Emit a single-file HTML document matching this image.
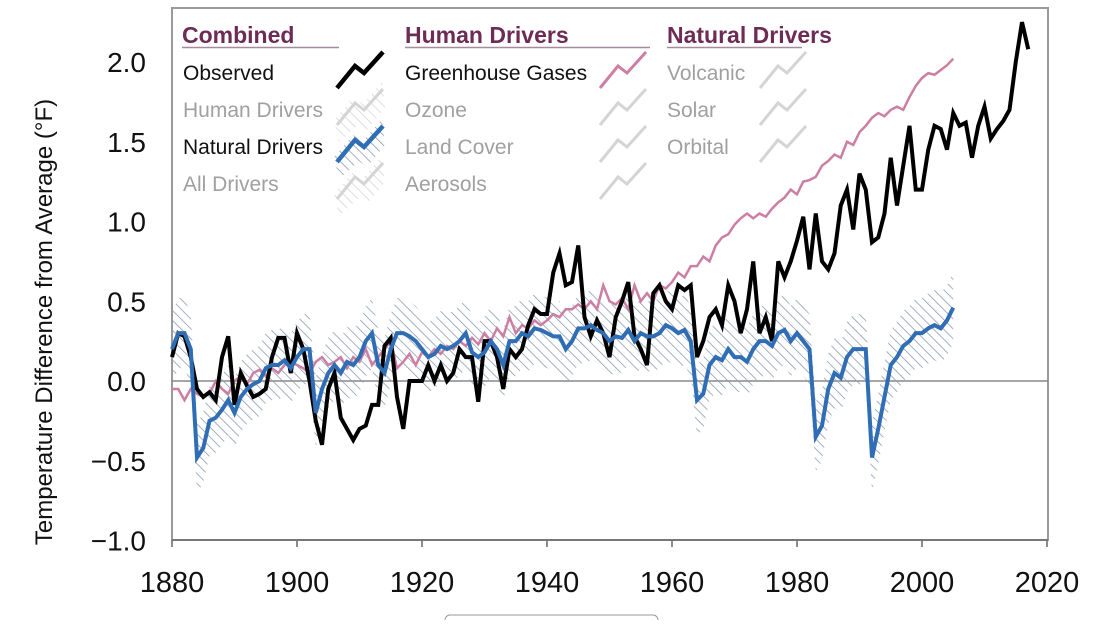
<!DOCTYPE html>
<html><head><meta charset="utf-8"><style>
body{margin:0;background:#fff;width:1104px;height:620px;overflow:hidden;font-family:"Liberation Sans",Arial,sans-serif}
svg text{font-family:"Liberation Sans",Arial,sans-serif}
</style></head><body>
<svg id="chart" width="1104" height="620">
<defs>
<pattern id="hatch" width="7" height="7" patternUnits="userSpaceOnUse" patternTransform="rotate(-45)">
<line x1="0" y1="0" x2="0" y2="7" stroke="#8d9db3" stroke-width="1.6"/>
</pattern>
<pattern id="hatchg" width="7" height="7" patternUnits="userSpaceOnUse" patternTransform="rotate(-45)">
<line x1="0" y1="0" x2="0" y2="7" stroke="#d6d6d6" stroke-width="1.6"/>
</pattern>
</defs>
<g id="frame"></g>
<g id="band"></g>
<g id="lines"></g>
<g id="legend"></g>
<rect x="445" y="615" width="213" height="12" rx="5" fill="#fff" stroke="#999"/>
</svg>
<script>
const ns="http://www.w3.org/2000/svg";
const yTicks=[2.0,1.5,1.0,0.5,0.0,-0.5,-1.0];
const yTickLabels=["2.0","1.5","1.0","0.5","0.0","\u22120.5","\u22121.0"];
const xTicks=[1880,1900,1920,1940,1960,1980,2000,2020];
const observedStart=1880;
const observed=[0.15,0.3,0.28,0.15,-0.05,-0.1,-0.07,-0.12,0.15,0.28,-0.15,0.05,-0.03,-0.1,-0.08,-0.05,0.15,0.27,0.27,0.05,0.3,0.2,0.0,-0.25,-0.4,-0.05,0.05,-0.23,-0.3,-0.37,-0.3,-0.28,-0.15,-0.15,0.22,0.27,-0.1,-0.3,0.0,0.0,0.0,0.1,0.0,0.1,0.0,0.05,0.2,0.15,0.15,-0.13,0.25,0.25,0.15,-0.05,0.2,0.15,0.2,0.35,0.45,0.42,0.42,0.68,0.8,0.6,0.62,0.85,0.4,0.28,0.38,0.3,0.15,0.4,0.5,0.62,0.28,0.2,0.1,0.55,0.6,0.5,0.45,0.6,0.57,0.6,0.15,0.25,0.4,0.45,0.35,0.6,0.5,0.3,0.45,0.75,0.3,0.4,0.25,0.75,0.65,0.75,0.88,1.03,0.7,1.05,0.75,0.7,0.8,1.1,1.2,0.95,1.3,1.2,0.87,0.9,1.05,1.4,1.1,1.35,1.6,1.2,1.2,1.45,1.6,1.58,1.45,1.68,1.6,1.62,1.4,1.6,1.72,1.52,1.58,1.63,1.7,2.0,2.25,2.08];
const ghg=[-0.05,-0.05,-0.12,-0.05,-0.08,-0.1,-0.08,0.0,-0.05,-0.08,0.0,0.03,-0.02,0.05,0.07,0.03,0.08,0.05,0.1,0.12,0.1,0.08,0.05,0.12,0.15,0.1,0.12,0.15,0.08,0.15,0.12,0.2,0.1,0.15,0.2,0.25,0.08,0.12,0.17,0.1,0.18,0.15,0.2,0.17,0.22,0.2,0.25,0.22,0.27,0.23,0.3,0.25,0.33,0.28,0.4,0.3,0.35,0.33,0.38,0.35,0.38,0.42,0.4,0.45,0.45,0.48,0.45,0.5,0.45,0.6,0.5,0.48,0.52,0.45,0.6,0.5,0.55,0.5,0.6,0.58,0.62,0.68,0.65,0.72,0.72,0.78,0.75,0.85,0.9,0.92,0.98,1.02,1.05,1.02,1.05,1.03,1.08,1.12,1.15,1.2,1.17,1.25,1.26,1.28,1.35,1.38,1.42,1.4,1.5,1.48,1.56,1.6,1.65,1.68,1.66,1.7,1.72,1.7,1.78,1.85,1.9,1.93,1.92,1.95,1.98,2.02];
const natural=[0.2,0.3,0.3,0.2,-0.48,-0.42,-0.25,-0.23,-0.18,-0.12,-0.2,-0.1,-0.05,-0.02,0.0,0.08,0.1,0.1,0.13,0.08,0.15,0.2,0.2,-0.2,-0.05,0.05,0.1,0.05,0.12,0.1,0.15,0.25,0.3,0.1,0.05,0.2,0.3,0.3,0.28,0.25,0.2,0.15,0.17,0.22,0.2,0.22,0.25,0.3,0.18,0.15,0.18,0.25,0.2,0.1,0.25,0.25,0.3,0.28,0.33,0.32,0.3,0.28,0.28,0.2,0.25,0.33,0.33,0.35,0.32,0.3,0.25,0.28,0.27,0.32,0.25,0.3,0.28,0.28,0.3,0.35,0.33,0.3,0.32,0.25,-0.12,-0.08,0.1,0.15,0.13,0.2,0.15,0.15,0.12,0.2,0.25,0.25,0.22,0.3,0.32,0.25,0.3,0.25,0.2,-0.35,-0.28,-0.05,0.05,0.02,0.15,0.2,0.2,0.2,-0.48,-0.3,-0.1,0.1,0.15,0.22,0.25,0.3,0.3,0.33,0.35,0.33,0.38,0.46];
const bandHalf=[0.22];
const X0=172,PX=6.25,Y0=381,PY=159.5;
const sx=yr=>X0+(yr-1880)*PX, sy=v=>Y0-v*PY;
function el(tag,attrs,parent,text){const e=document.createElementNS(ns,tag);for(const k in attrs)e.setAttribute(k,attrs[k]);if(text!=null)e.textContent=text;parent.appendChild(e);return e;}
const frame=document.getElementById('frame');
const bg=el('rect',{x:172,y:8,width:876,height:532,fill:'#fff',stroke:'#9a9a9a','stroke-width':2},frame);


yTicks.forEach((v,i)=>{const t=el('text',{x:146,y:sy(v)+10,'text-anchor':'end','font-size':28,fill:'#111'},frame,yTickLabels[i]);

});
xTicks.forEach(yr=>{el('line',{x1:sx(yr),x2:sx(yr),y1:540,y2:547,stroke:'#666','stroke-width':1.5},frame);
const t=el('text',{x:sx(yr),y:592,'text-anchor':'middle','font-size':29,fill:'#111'},frame,yr);

});
el('line',{x1:172,x2:1048,y1:540,y2:540,stroke:'#777','stroke-width':2},frame);
const zl=el('line',{x1:172,x2:1048,y1:sy(0),y2:sy(0),stroke:'#888','stroke-width':1.5},frame);


const yt=el('text',{x:0,y:0,transform:'translate(52,322) rotate(-90)','text-anchor':'middle','font-size':24,fill:'#111'},frame,'Temperature Difference from Average (°F)');


let up=natural.map((v,i)=>sx(1880+i)+','+sy(v+bandHalf[0]));
let dn=natural.map((v,i)=>sx(1880+i)+','+sy(v-bandHalf[0])).reverse();
const band=el('polygon',{points:up.concat(dn).join(' '),fill:'url(#hatch)'},document.getElementById('band'));


const L=document.getElementById('lines');
function line(arr,start,color,w,name){const p=el('polyline',{points:arr.map((v,i)=>sx(start+i)+','+sy(v)).join(' '),fill:'none',stroke:color,'stroke-width':w,'stroke-linejoin':'miter'},L);

}
line(ghg,1880,'#cc7fa3',2.5,'greenhouse-gases-line');
line(observed,observedStart,'#000',4,'observed-line');
line(natural,1880,'#2f6db5',4,'natural-drivers-line');
const G=document.getElementById('legend');
function head(x,w,t){const e=el('text',{x:x,y:43,'font-size':23,'font-weight':'bold',fill:'#6d2c55'},G,t);


el('line',{x1:x,x2:x+w,y1:47.5,y2:47.5,stroke:'#a88a9c','stroke-width':1.5},G);}
head(182,157,'Combined');head(405,245,'Human Drivers');head(667,135,'Natural Drivers');
function item(x,y,t,col,ix,icol,iw,hatch){const e=el('text',{x:x,y:y+7,'font-size':21,fill:col},G,t);


if(hatch)el('polygon',{points:`${ix-3},${y+10} ${ix+16},${y-12} ${ix+26},${y-6} ${ix+45},${y-28} ${ix+48},${y-2} ${ix+30},${y+20} ${ix+22},${y+14} ${ix+2},${y+32}`,fill:hatch},G);
el('polyline',{points:`${ix},${y+15} ${ix+18},${y-7} ${ix+27},${y} ${ix+46},${y-21}`,fill:'none',stroke:icol,'stroke-width':iw},G);}
item(183,73,'Observed','#111',337,'#000',4.5);
item(183,110,'Human Drivers','#a0a0a0',337,'#d4d4d4',3,'url(#hatchg)');
item(183,147,'Natural Drivers','#111',337,'#2f6db5',4.5,'url(#hatch)');
item(183,184,'All Drivers','#a0a0a0',337,'#d4d4d4',3,'url(#hatchg)');
item(405,73,'Greenhouse Gases','#111',600,'#cc7fa3',3);
item(405,110,'Ozone','#a0a0a0',600,'#d4d4d4',3);
item(405,147,'Land Cover','#a0a0a0',600,'#d4d4d4',3);
item(405,184,'Aerosols','#a0a0a0',600,'#d4d4d4',3);
item(667,73,'Volcanic','#a0a0a0',760,'#d4d4d4',3);
item(667,110,'Solar','#a0a0a0',760,'#d4d4d4',3);
item(667,147,'Orbital','#a0a0a0',760,'#d4d4d4',3);
</script>
</body></html>
